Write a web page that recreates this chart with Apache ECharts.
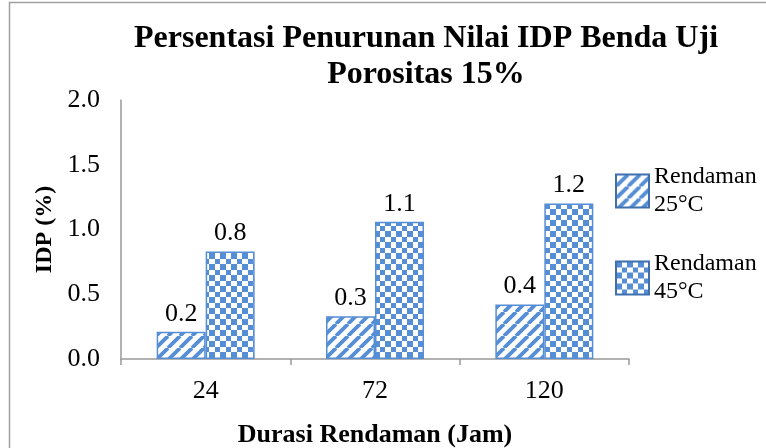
<!DOCTYPE html>
<html>
<head>
<meta charset="utf-8">
<script src="https://cdn.jsdelivr.net/npm/echarts@6/dist/echarts.min.js"></script>
<style>
  html, body { margin: 0; padding: 0; background: #fff; }
  #idpChart { width: 766px; height: 448px; }
</style>
</head>
<body>
<div id="idpChart"></div>
<script>
const durasi = ["24", "72", "120"];
const seriesNames = ["Rendaman 25°C", "Rendaman 45°C"];
const rendaman25 = [0.21, 0.33, 0.42];
const rendaman45 = [0.83, 1.06, 1.20];
const yTicks = [0, 0.5, 1.0, 1.5, 2.0];

const blue = "#558ed5";
const serif = "Liberation Serif, Times New Roman, serif";

// hatch patterns like the excel fills
function stripes() {
  const c = document.createElement("canvas");
  c.width = 12;
  c.height = 12;
  const ctx = c.getContext("2d");
  ctx.fillStyle = "#fff";
  ctx.fillRect(0, 0, 12, 12);
  ctx.strokeStyle = blue;
  ctx.lineWidth = 3.8;
  [-12, 0, 12].forEach(x0 => {
    ctx.beginPath();
    ctx.moveTo(x0, 12);
    ctx.lineTo(x0 + 12, 0);
    ctx.stroke();
  });
  return c;
}

function checker() {
  const c = document.createElement("canvas");
  c.width = 11;
  c.height = 11;
  const ctx = c.getContext("2d");
  ctx.fillStyle = "#fff";
  ctx.fillRect(0, 0, 11, 11);
  ctx.fillStyle = blue;
  ctx.fillRect(0, 0, 6, 6);
  ctx.fillRect(6, 6, 5, 5);
  return c;
}

const chart = echarts.init(document.getElementById("idpChart"));

const barLabel = {
  show: true,
  position: "top",
  distance: 5,
  color: "#000",
  fontFamily: serif,
  fontSize: 26,
  formatter: p => p.value.toFixed(1)
};

chart.setOption({
  animation: false,
  backgroundColor: "#fff",
  graphic: [
    {
      type: "rect",
      silent: true,
      shape: { x: 9.5, y: 2.5, width: 820, height: 520 },
      style: { fill: "none", stroke: "#a0a0a0", lineWidth: 1.5 }
    }
  ],
  title: {
    text: "Persentasi Penurunan Nilai IDP Benda Uji\nPorositas 15%",
    left: 426,
    top: 21,
    padding: 0,
    textAlign: "center",
    textStyle: {
      fontFamily: serif,
      fontWeight: "bold",
      fontSize: 32,
      lineHeight: 36,
      color: "#000"
    }
  },
  grid: {
    left: 121,
    right: 137,
    top: 100,
    bottom: 89,
    containLabel: false,
    outerBoundsMode: "none"
  },
  legend: {
    orient: "vertical",
    left: 610,
    top: 158,
    itemWidth: 33,
    itemHeight: 33,
    itemGap: 31,
    icon: "rect",
    data: seriesNames,
    formatter: name => name.replace(" ", "\n"),
    itemStyle: { borderColor: "#3f6fae", borderWidth: 2 },
    textStyle: {
      fontFamily: serif,
      fontSize: 24,
      lineHeight: 28,
      color: "#000"
    }
  },
  xAxis: {
    type: "category",
    data: durasi,
    name: "Durasi Rendaman (Jam)",
    nameLocation: "middle",
    nameGap: 63,
    nameTextStyle: {
      fontFamily: serif,
      fontWeight: "bold",
      fontSize: 26,
      color: "#000"
    },
    axisLine: { lineStyle: { color: "#999", width: 1.5 } },
    axisTick: { show: true, length: 6, lineStyle: { color: "#999", width: 1.5 } },
    axisLabel: {
      margin: 19,
      fontFamily: serif,
      fontSize: 26,
      color: "#000"
    },
    splitLine: { show: false }
  },
  yAxis: {
    type: "value",
    min: yTicks[0],
    max: yTicks[yTicks.length - 1],
    interval: 0.5,
    name: "IDP (%)",
    nameLocation: "middle",
    nameGap: 64,
    nameTextStyle: {
      fontFamily: serif,
      fontWeight: "bold",
      fontSize: 24,
      color: "#000"
    },
    axisLine: { show: true, lineStyle: { color: "#999", width: 1.5 } },
    axisTick: { show: false },
    splitLine: { show: false },
    axisLabel: {
      margin: 21,
      fontFamily: serif,
      fontSize: 26,
      color: "#000",
      formatter: v => v.toFixed(1)
    }
  },
  series: [
    {
      name: seriesNames[0],
      type: "bar",
      barWidth: 49,
      barGap: "0%",
      data: rendaman25,
      itemStyle: {
        color: { image: stripes(), repeat: "repeat" },
        borderColor: blue,
        borderWidth: 1.5
      },
      label: barLabel
    },
    {
      name: seriesNames[1],
      type: "bar",
      barWidth: 49,
      barGap: "0%",
      data: rendaman45,
      itemStyle: {
        color: { image: checker(), repeat: "repeat" },
        borderColor: blue,
        borderWidth: 1.5
      },
      label: barLabel
    }
  ]
});

window.addEventListener("resize", () => {
  chart.resize();
});
</script>
</body>
</html>
